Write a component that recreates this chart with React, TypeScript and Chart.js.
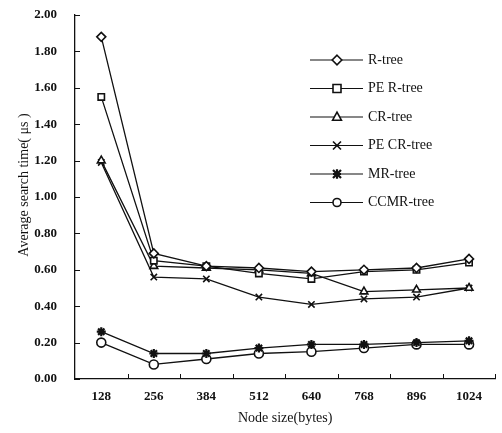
import React, { useEffect, useRef } from "react";
import { Chart, registerables } from "chart.js";

Chart.register(...registerables);

const categories = ["128", "256", "384", "512", "640", "768", "896", "1024"];
const seriesNames = ["R-tree", "PE R-tree", "CR-tree", "PE CR-tree", "MR-tree", "CCMR-tree"];
const rTree = [1.88, 0.69, 0.62, 0.61, 0.59, 0.6, 0.61, 0.66];
const peRTree = [1.55, 0.65, 0.62, 0.58, 0.55, 0.59, 0.6, 0.64];
const crTree = [1.2, 0.62, 0.61, 0.6, 0.58, 0.48, 0.49, 0.5];
const peCrTree = [1.19, 0.56, 0.55, 0.45, 0.41, 0.44, 0.45, 0.5];
const mrTree = [0.26, 0.14, 0.14, 0.17, 0.19, 0.19, 0.2, 0.21];
const ccmrTree = [0.2, 0.08, 0.11, 0.14, 0.15, 0.17, 0.19, 0.19];
const pointStyles = ["rectRot", "rect", "triangle", "crossRot", "star", "circle"];
const seriesData = [rTree, peRTree, crTree, peCrTree, mrTree, ccmrTree];
const yTitle = "Average search time( μs )";
const xTitle = "Node size(bytes)";

const FONT = "'Liberation Serif', 'Times New Roman', serif";
const INK = "#111";

const inwardTicks = {
  id: "inwardTicks",
  afterDraw(chart: any) {
    const ctx = chart.ctx;
    const x = chart.scales.x;
    const y = chart.scales.y;
    const area = chart.chartArea;
    ctx.save();
    ctx.strokeStyle = INK;
    ctx.lineWidth = 1;
    ctx.beginPath();
    y.ticks.forEach((t: any) => {
      const py = Math.round(y.getPixelForValue(t.value)) + 0.5;
      ctx.moveTo(area.left, py);
      ctx.lineTo(area.left + 5, py);
    });
    const n = categories.length;
    for (let i = 1; i <= n; i++) {
      const px = Math.round(x.getPixelForValue(i - 0.5)) + 0.5;
      ctx.moveTo(px, area.bottom);
      ctx.lineTo(px, area.bottom - 5);
    }
    ctx.stroke();
    ctx.fillStyle = INK;
    ctx.font = `14px ${FONT}`;
    ctx.textAlign = "center";
    ctx.textBaseline = "middle";
    ctx.translate(24, 185);
    ctx.rotate(-Math.PI / 2);
    ctx.fillText(yTitle, 0, 0);
    ctx.restore();
  },
};

function drawPointShape(ctx: CanvasRenderingContext2D, style: string, r: number, x: number, y: number) {
  ctx.beginPath();
  switch (style) {
    case "rectRot":
      ctx.moveTo(x, y - r * 1.2);
      ctx.lineTo(x + r * 1.2, y);
      ctx.lineTo(x, y + r * 1.2);
      ctx.lineTo(x - r * 1.2, y);
      ctx.closePath();
      ctx.fill();
      ctx.stroke();
      break;
    case "rect":
      ctx.rect(x - r, y - r, 2 * r, 2 * r);
      ctx.fill();
      ctx.stroke();
      break;
    case "triangle":
      ctx.moveTo(x, y - r * 1.2);
      ctx.lineTo(x + r * 1.1, y + r * 0.8);
      ctx.lineTo(x - r * 1.1, y + r * 0.8);
      ctx.closePath();
      ctx.fill();
      ctx.stroke();
      break;
    case "crossRot":
      ctx.moveTo(x - r, y - r);
      ctx.lineTo(x + r, y + r);
      ctx.moveTo(x + r, y - r);
      ctx.lineTo(x - r, y + r);
      ctx.stroke();
      break;
    case "star":
      ctx.moveTo(x - r, y - r);
      ctx.lineTo(x + r, y + r);
      ctx.moveTo(x + r, y - r);
      ctx.lineTo(x - r, y + r);
      ctx.moveTo(x, y - r * 1.2);
      ctx.lineTo(x, y + r * 1.2);
      ctx.moveTo(x - r, y);
      ctx.lineTo(x + r, y);
      ctx.stroke();
      break;
    default:
      ctx.arc(x, y, r, 0, Math.PI * 2);
      ctx.fill();
      ctx.stroke();
  }
}

const customLegend = {
  id: "customLegend",
  afterDraw(chart: any) {
    const ctx = chart.ctx;
    const x0 = 310;
    const x1 = 363;
    const xm = 337;
    const xt = 368;
    const y0 = 60;
    const dy = 28.5;
    ctx.save();
    chart.data.datasets.forEach((ds: any, i: number) => {
      const yy = y0 + i * dy;
      ctx.strokeStyle = INK;
      ctx.lineWidth = 1.2;
      ctx.beginPath();
      ctx.moveTo(x0, yy);
      ctx.lineTo(x1, yy);
      ctx.stroke();
      ctx.fillStyle = "#fff";
      ctx.lineWidth = ds.pointStyle === "star" ? 2.2 : 1.6;
      drawPointShape(ctx, ds.pointStyle, 4, xm, yy);
      ctx.fillStyle = INK;
      ctx.font = `14px ${FONT}`;
      ctx.textBaseline = "middle";
      ctx.textAlign = "left";
      ctx.fillText(ds.label, xt, yy);
    });
    ctx.restore();
  },
};

export default function App() {
  const ref = useRef<HTMLCanvasElement>(null);
  useEffect(() => {
    if (!ref.current) return;
    const chart = new Chart(ref.current, {
      type: "line",
      data: {
        labels: categories,
        datasets: seriesNames.map((name, i) => ({
          label: name,
          data: seriesData[i],
          borderColor: INK,
          borderWidth: 1.3,
          backgroundColor: "#fff",
          pointStyle: pointStyles[i] as any,
          pointRadius: 4.5,
          pointBorderWidth: pointStyles[i] === "star" ? 2.2 : 1.6,
          pointBorderColor: INK,
          pointBackgroundColor: "#fff",
          tension: 0,
        })),
      },
      options: {
        responsive: false,
        animation: false,
        events: [],
        layout: { padding: { top: 15, right: 2, left: 0, bottom: 0 } },
        plugins: {
          legend: { display: false },
          tooltip: { enabled: false },
        },
        scales: {
          x: {
            type: "category",
            offset: true,
            grid: { display: false, drawTicks: false },
            border: { display: true, color: INK, width: 1.3 },
            ticks: {
              color: INK,
              padding: 10,
              font: { family: FONT, size: 13, weight: "bold" },
              maxRotation: 0,
            },
            title: {
              display: true,
              text: xTitle,
              color: INK,
              font: { family: FONT, size: 14 },
              padding: { top: 0, bottom: 6 },
            },
            afterFit: (s: any) => {
              s.height = 54;
            },
          },
          y: {
            min: 0,
            max: 2,
            grid: { display: false, drawTicks: false },
            border: { display: true, color: INK, width: 1.3 },
            ticks: {
              stepSize: 0.2,
              color: INK,
              padding: 18,
              font: { family: FONT, size: 13, weight: "bold" },
              callback: (v: any) => Number(v).toFixed(2),
            },
            afterFit: (s: any) => {
              s.width = 75;
              s.paddingTop = 0;
              s.paddingBottom = 0;
            },
          },
        },
      },
      plugins: [inwardTicks, customLegend],
    });
    return () => chart.destroy();
  }, []);
  return (
    <div style={{ position: "fixed", left: 0, top: 0, width: 502, height: 433, background: "#fff" }}>
      <canvas ref={ref} width={502} height={433} />
    </div>
  );
}
